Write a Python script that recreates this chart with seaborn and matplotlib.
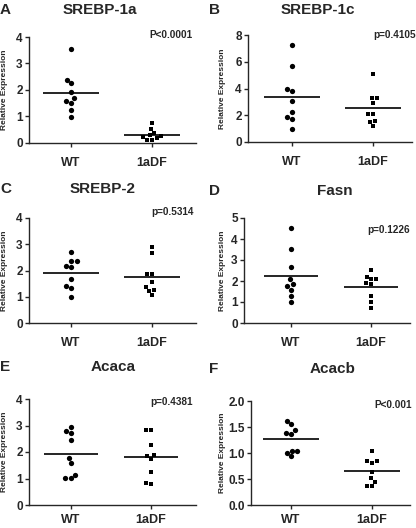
import numpy as np
import pandas as pd
import matplotlib
matplotlib.use("Agg")
import matplotlib.pyplot as plt
import seaborn as sns

sns.set_style("ticks")
plt.rcParams['font.family'] = ['Liberation Sans', 'DejaVu Sans']
plt.rcParams['font.weight'] = 'bold'

groups = ["WT", "1aDF"]
letters = ["A", "B", "C", "D", "E", "F"]
titles = ["SREBP-1a", "SREBP-1c", "SREBP-2", "Fasn", "Acaca", "Acacb"]
pvals = ["P<0.0001", "p=0.4105", "p=0.5314", "p=0.1226", "p=0.4381", "P<0.001"]

srebp1a_wt = [3.53, 2.38, 2.25, 1.91, 1.68, 1.59, 1.52, 1.26, 0.97]
srebp1a_ko = [0.75, 0.51, 0.36, 0.27, 0.18, 0.13, 0.13, 0.24, 0.29]
srebp1c_wt = [7.28, 5.68, 3.98, 3.78, 3.08, 2.28, 1.85, 1.73, 0.95]
srebp1c_ko = [5.08, 3.30, 3.30, 2.95, 2.13, 2.13, 1.55, 1.48, 1.18]
srebp2_wt = [2.72, 2.36, 2.36, 2.18, 2.12, 1.69, 1.41, 1.33, 0.98]
srebp2_ko = [2.91, 2.66, 1.85, 1.87, 1.56, 1.36, 1.27, 1.22, 1.07]
fasn_wt = [4.54, 3.52, 2.68, 2.08, 1.86, 1.78, 1.59, 1.30, 1.00]
fasn_ko = [2.52, 2.19, 2.08, 2.10, 1.90, 1.84, 1.27, 0.98, 0.73]
acaca_wt = [2.94, 2.81, 2.71, 2.46, 1.79, 1.60, 1.15, 1.01, 1.01]
acaca_ko = [2.83, 2.83, 2.25, 1.88, 1.86, 1.73, 1.25, 0.83, 0.78]
acacb_wt = [1.61, 1.55, 1.44, 1.39, 1.37, 1.04, 1.04, 1.00, 0.94]
acacb_ko = [1.04, 0.85, 0.81, 0.84, 0.64, 0.52, 0.45, 0.37, 0.37]

wt_series = [srebp1a_wt, srebp1c_wt, srebp2_wt, fasn_wt, acaca_wt, acacb_wt]
ko_series = [srebp1a_ko, srebp1c_ko, srebp2_ko, fasn_ko, acaca_ko, acacb_ko]

y_max = [4, 8, 4, 5, 4, 2.0]
y_step = [1, 2, 1, 1, 1, 0.5]

W, H = 416, 528
fig = plt.figure(figsize=(W / 100, H / 100), dpi=100)

# pixel boxes: left, right, top, bottom
boxes = [
    (29, 196, 37, 143),
    (248, 412, 35, 142),
    (29, 196, 218, 323),
    (244, 410, 218, 323),
    (29, 196, 399, 505),
    (251, 410, 401, 505),
]
cat_px = [(71, 152), (292, 373), (71, 152), (291, 371), (71, 151), (291, 372)]
title_pos = [(100, 10), (318, 10), (103, 189), (335, 191), (113, 367), (333, 369)]
letter_pos = [(0, 10), (209, 10), (0, 189), (209, 191), (0, 367), (209, 369)]
ylabel_x = [5, 223, 5, 223, 5, 223]
p_pos = [(193, 35), (416, 35), (194, 212), (410, 230), (193, 402), (412, 405)]
xpad = [7, 7, 7, 7, 3.5, 3.5]

for i in range(6):
    l, r, t, b = boxes[i]
    ax = fig.add_axes([l / W, 1 - b / H, (r - l) / W, (b - t) / H])
    df = pd.DataFrame({
        "group": ["WT"] * len(wt_series[i]) + ["1aDF"] * len(ko_series[i]),
        "value": list(wt_series[i]) + list(ko_series[i]),
    })
    sns.swarmplot(data=df[df.group == "WT"], x="group", y="value", order=groups,
                  marker="o", color="black", size=3.8, ax=ax)
    sns.swarmplot(data=df[df.group == "1aDF"], x="group", y="value", order=groups,
                  marker="s", color="black", size=3.5, ax=ax)
    for k, g in enumerate(groups):
        m = df[df.group == g]["value"].mean()
        ax.hlines(m, k - 0.34, k + 0.34, color="black", lw=1.2)
    c0, c1 = cat_px[i]
    sp = c1 - c0
    ax.set_xlim(-(c0 - l) / sp, (r - c0) / sp)
    ax.set_ylim(0, y_max[i])
    ticks = np.arange(0, y_max[i] + 1e-9, y_step[i])
    ax.set_yticks(ticks)
    if i == 5:
        ax.set_yticklabels([f"{v:.1f}" for v in ticks])
    else:
        ax.set_yticklabels([f"{v:g}" for v in ticks])
    ax.set_xlabel("")
    ax.set_ylabel("")
    sns.despine(ax=ax)
    for s in ["left", "bottom"]:
        ax.spines[s].set_linewidth(1.0)
    ax.tick_params(axis="y", length=3, width=1, pad=1.5, labelsize=8.5)
    ax.tick_params(axis="x", length=3, width=1, pad=xpad[i], labelsize=9)
    for lab in ax.get_xticklabels() + ax.get_yticklabels():
        lab.set_fontweight("bold")
    px, py = p_pos[i]
    fig.text(px / W, 1 - py / H, pvals[i], ha="right", va="center",
             fontsize=7.2, fontweight="bold")
    tx, ty = title_pos[i]
    fig.text(tx / W, 1 - ty / H, titles[i], ha="center", va="center",
             fontsize=11, fontweight="bold")
    lx, ly = letter_pos[i]
    fig.text(lx / W, 1 - ly / H, letters[i], ha="left", va="center",
             fontsize=11, fontweight="bold")
    fig.text(ylabel_x[i] / W, 1 - ((t + b) / 2) / H, "Relative Expression",
             rotation=90, ha="center", va="center", fontsize=6, fontweight="bold")

fig.savefig("out.png", dpi=100)
